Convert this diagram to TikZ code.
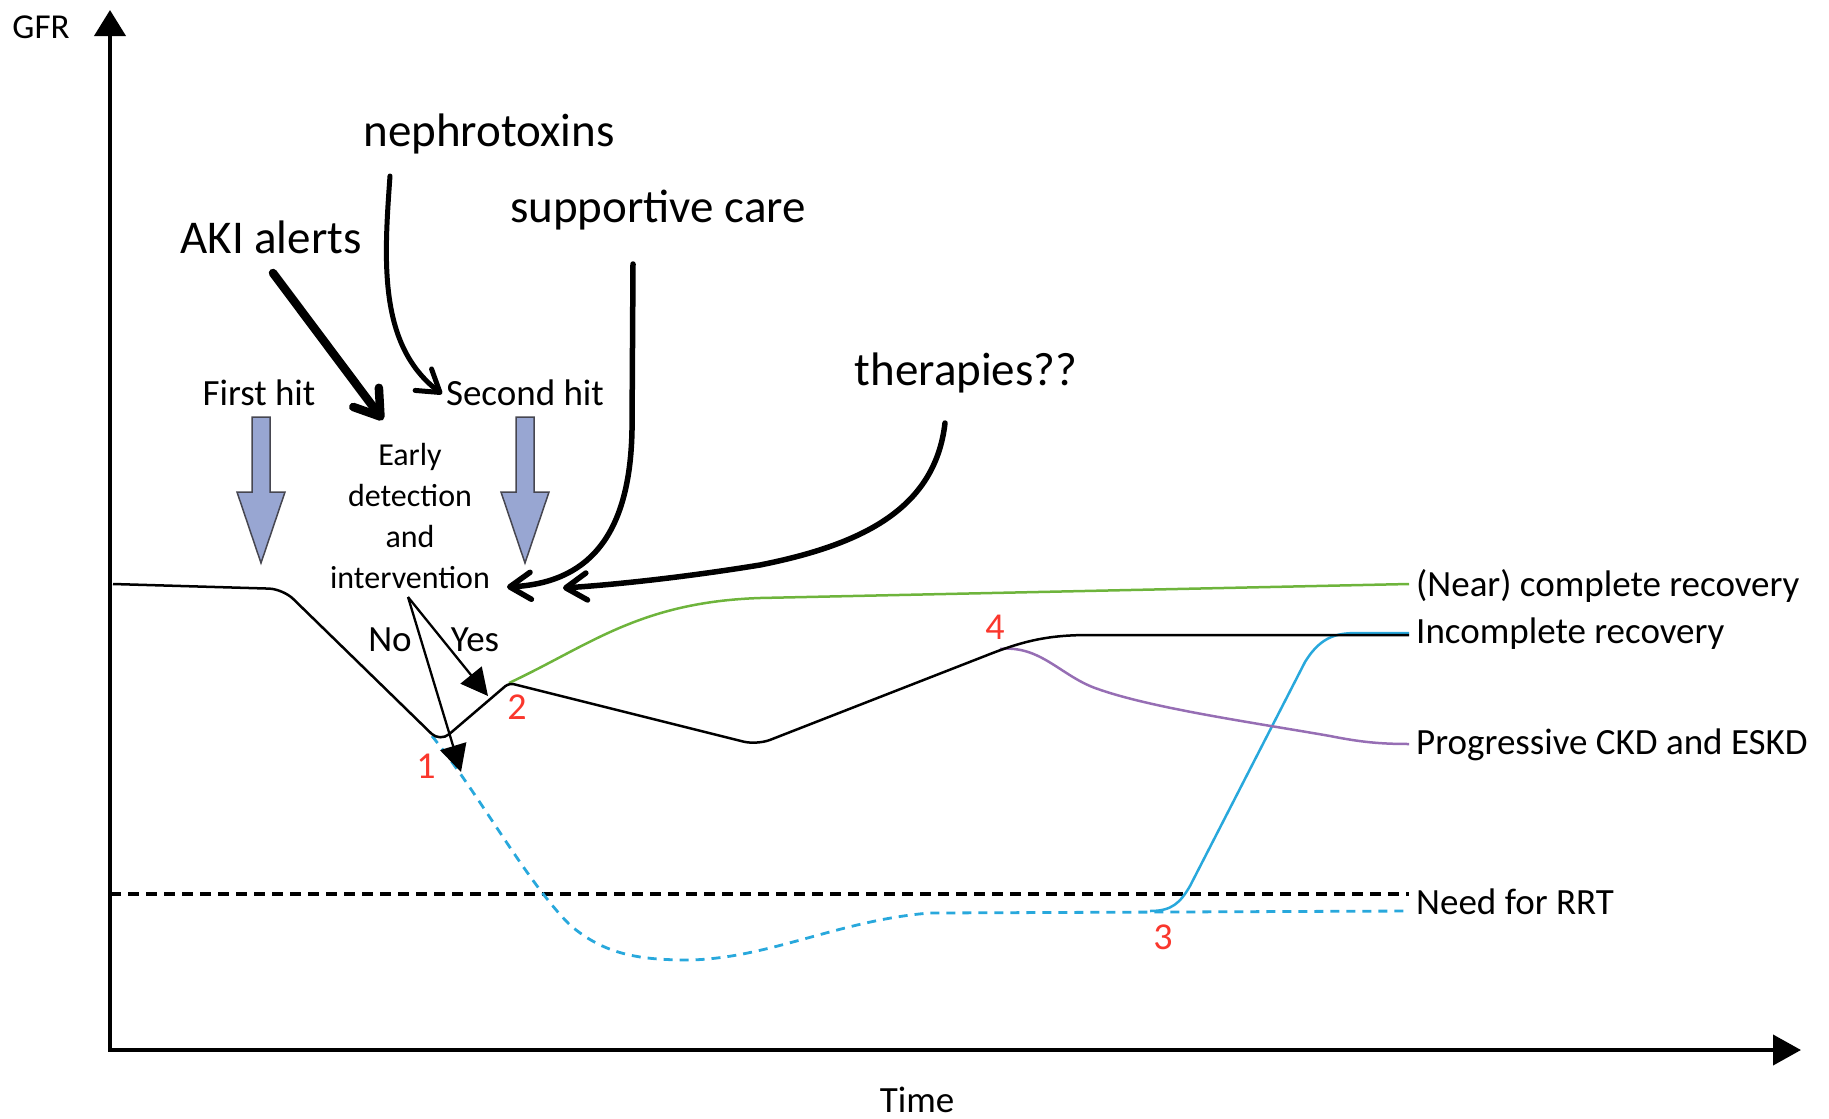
\documentclass[tikz,border=0pt]{standalone}
\usepackage{fontspec}
\setmainfont{Carlito}
\usetikzlibrary{arrows.meta}
\definecolor{hitblue}{RGB}{152,166,210}
\definecolor{hitedge}{RGB}{70,70,80}
\definecolor{recgreen}{RGB}{110,180,60}
\definecolor{ckdpurple}{RGB}{150,110,180}
\definecolor{rrtcyan}{RGB}{40,168,220}
\definecolor{numred}{RGB}{250,55,45}
\begin{document}
\begin{tikzpicture}[x=1pt,y=-1pt,
  annot/.style={font=\fontsize{47}{56}\selectfont, inner sep=0pt},
  lbl/.style={font=\fontsize{37}{44}\selectfont, inner sep=0pt},
  small/.style={font=\fontsize{32}{40.7}\selectfont, inner sep=0pt, align=center},
  num/.style={font=\fontsize{38}{44}\selectfont, text=numred, inner sep=0pt},
  curve/.style={line width=2.5pt, line join=round},
  pointer/.style={line width=5.5pt, line cap=round, -{Straight Barb[round,length=21pt,width=27pt]}},
  branch/.style={line width=2.3pt, -{Triangle[length=27pt,width=27pt]}},
  hitarrow/.pic={\draw[fill=hitblue, draw=hitedge, line width=1.5pt]
    (-9,0) -- (9,0) -- (9,75) -- (24,75) -- (0,146) -- (-24,75) -- (-9,75) -- cycle;}
]
\useasboundingbox (0,0) rectangle (1829,1119);

% axes
\coordinate (ytip) at (110,10);
\coordinate (origin) at (110,1050);
\coordinate (xtip) at (1801,1050);
\draw[line width=4pt, {Triangle[length=26pt,width=31pt]}-{Triangle[length=28pt,width=30pt]}]
  (ytip) -- (origin) -- (xtip);
\node[lbl, font=\fontsize{35}{42}\selectfont] (gfr) at (41,27) {GFR};
\node[lbl] (time) at (917,1100) {Time};

% end points of the trajectories
\coordinate (endgreen) at (1409,584);
\coordinate (endblack) at (1409,635);
\coordinate (endpurple) at (1409,744);
\coordinate (endrrt) at (1409,894);
\coordinate (enddash) at (1409,911);

% threshold for renal replacement therapy
\draw[line width=4pt, dash pattern=on 11pt off 7pt] (110,894) -- (endrrt);

% severe course without intervention
\draw[rrtcyan, line width=2.8pt, dash pattern=on 9pt off 7pt]
  (432,736) .. controls (480,795) and (525,880) .. (570,925)
  .. controls (605,955) and (640,960) .. (690,960)
  .. controls (770,958) and (840,920) .. (930,913) -- (enddash);

% recovery after RRT
\draw[rrtcyan, curve]
  (1150,911) .. controls (1172,911) and (1180,903) .. (1190,886)
  -- (1305,662) .. controls (1322,634) and (1340,633) .. (1360,633) -- (1409,633);

% (near) complete recovery
\draw[recgreen, curve]
  (509,683) .. controls (590,645) and (640,602) .. (760,598) -- (endgreen);

% progressive CKD
\draw[ckdpurple, curve]
  (1000,649) .. controls (1040,645) and (1060,675) .. (1095,688)
  .. controls (1150,708) and (1250,722) .. (1330,736)
  .. controls (1360,742) and (1380,744) .. (endpurple);

% main GFR course
\draw[curve]
  (113,584) [rounded corners=14pt] -- (283,589)
  [rounded corners=12pt] -- (440,742)
  [rounded corners=5pt] -- (509,683)
  [rounded corners=14pt] -- (757,745)
  [sharp corners] -- (985,656)
  .. controls (1025,640) and (1050,635) .. (1090,635) -- (endblack);

% hits
\pic at (261,417) {hitarrow};
\pic at (525,417) {hitarrow};
\node[lbl] (first) at (259,393) {First hit};
\node[lbl] (second) at (525,393) {Second hit};

% early detection branch
\node[small] (early) at (410,516) {Early\\detection\\and\\intervention};
\coordinate (split) at (408,597);
\draw[branch] (split) -- (488,696);
\draw[branch] (split) -- (461,772);
\node[lbl] (no) at (390,640) {No};
\node[lbl] (yes) at (475,640) {Yes};

% numbered points
\node[num] (n1) at (426,766) {1};
\node[num] (n2) at (517,707) {2};
\node[num] (n3) at (1163,937) {3};
\node[num] (n4) at (995,627) {4};

% outcome labels
\node[lbl, anchor=west] (lgreen) at (1416,586) {(Near) complete recovery};
\node[lbl, anchor=west] (lblack) at (1416,634) {Incomplete recovery};
\node[lbl, anchor=west] (lpurple) at (1416,745) {Progressive CKD and ESKD};
\node[lbl, anchor=west] (lrrt) at (1416,902) {Need for RRT};

% interventions
\node[annot] (nephro) at (489,134) {nephrotoxins};
\node[annot] (support) at (658,210) {supportive care};
\node[annot] (aki) at (271,237) {AKI alerts};
\node[annot] (ther) at (966,373) {therapies??};

\coordinate (akistart) at (273,273);
\coordinate (akitip) at (383,420);
\coordinate (nephrostart) at (390,176);
\coordinate (nephrotip) at (442,394);
\coordinate (supstart) at (633,264);
\coordinate (suptip) at (507,587);
\coordinate (therstart) at (945,423);
\coordinate (thertip) at (563,588);

\draw[pointer, line width=8.5pt, -{Straight Barb[round,length=24pt,width=32pt]}]
  (akistart) -- (akitip);
\draw[pointer, line width=5pt]
  (nephrostart) .. controls (384,260) and (378,345) .. (nephrotip);
\draw[pointer]
  (supstart) -- (632,430) .. controls (630,540) and (585,583) .. (suptip);
\draw[pointer]
  (therstart) .. controls (935,510) and (860,545) .. (760,565)
  .. controls (680,578) and (610,585) .. (thertip);
\end{tikzpicture}
\end{document}
